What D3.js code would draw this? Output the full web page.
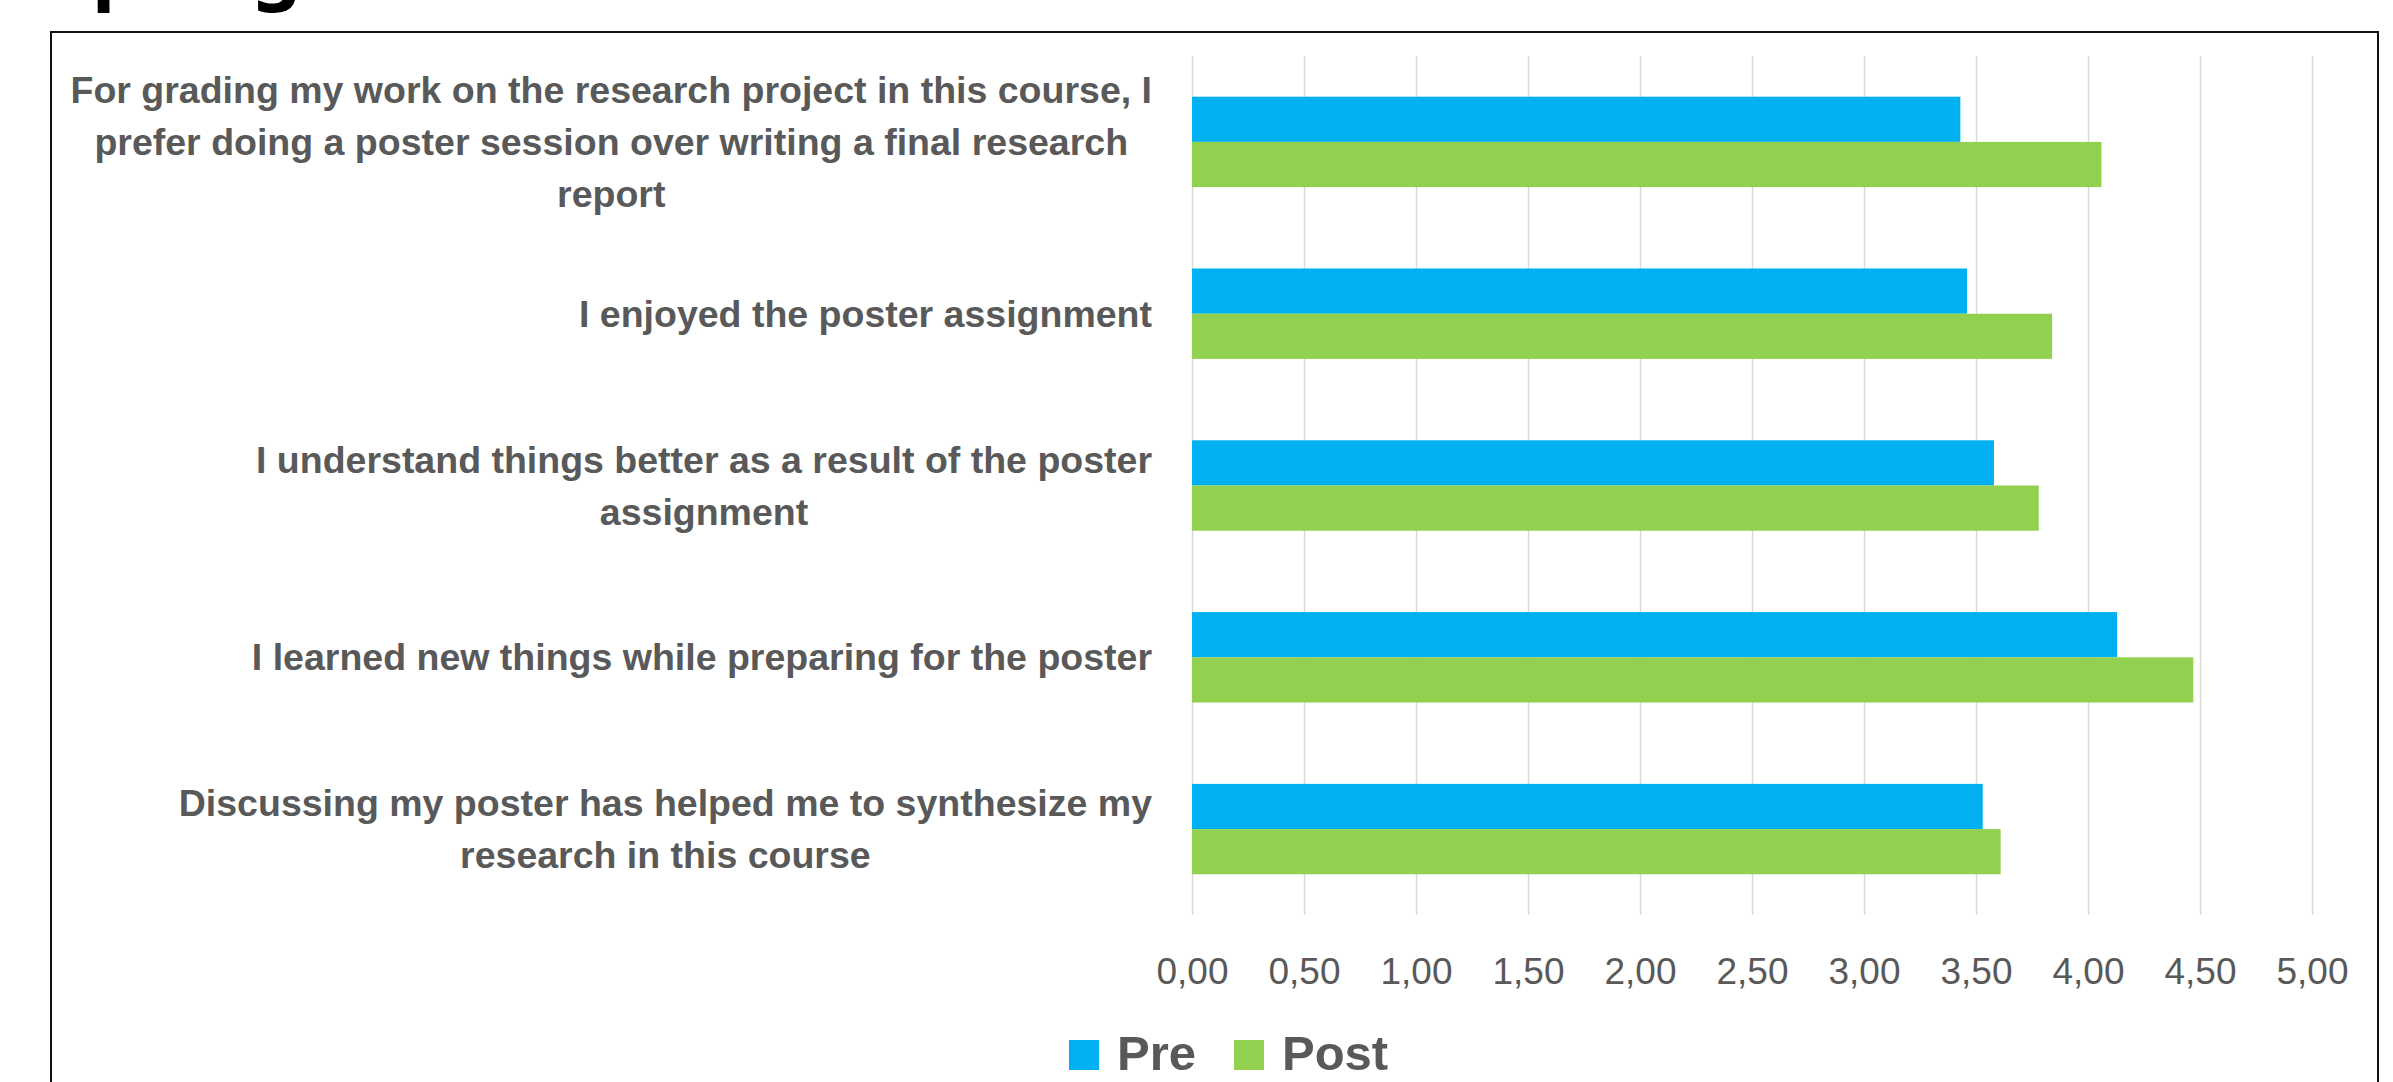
<!DOCTYPE html>
<html>
<head>
<meta charset="utf-8">
<script src="https://cdn.jsdelivr.net/npm/d3@7"></script>
<style>
  html, body { margin: 0; padding: 0; background: #ffffff; }
  svg { display: block; }
</style>
</head>
<body>
<svg id="chart" width="2393" height="1082"></svg>
<script>
// ---------- DATA ----------
const categories = [
  "For grading my work on the research project in this course, I\nprefer doing a poster session over writing a final research\nreport",
  "I enjoyed the poster assignment",
  "I understand things better as a result of the poster\nassignment",
  "I learned new things while preparing for the poster",
  "Discussing my poster has helped me to synthesize my\nresearch in this course"
];
const seriesNames = ["Pre", "Post"];
const preValues  = [3.43, 3.46, 3.58, 4.13, 3.53];
const postValues = [4.06, 3.84, 3.78, 4.47, 3.61];
const tickValues = [0, 0.5, 1, 1.5, 2, 2.5, 3, 3.5, 4, 4.5, 5];
const titleFragments = ["p", "g"];

// ---------- LAYOUT ----------
const W = 2393, H = 1082;
const plot = { left: 1192, right: 2312, top: 56, bottom: 915 };
const colors = { Pre: "#00B0F0", Post: "#92D050" };
const textGray = "#595959";
const gridGray = "#D9D9D9";

const svg = d3.select("#chart");
svg.append("rect").attr("width", W).attr("height", H).attr("fill", "#fff");

// cut-off title glyphs at very top (only descenders visible, as in the reference)
const titleG = svg.append("g")
  .attr("font-family", "'Noto Sans', 'Lato', sans-serif")
  .attr("font-size", 78).attr("font-weight", "bold").attr("fill", "#000");
titleG.append("text").attr("x", 92).attr("y", -6).text(titleFragments[0]);
titleG.append("text").attr("x", 252).attr("y", -6).text(titleFragments[1]);

// frame
svg.append("rect")
  .attr("x", 51).attr("y", 32)
  .attr("width", 2378 - 51).attr("height", 1200)
  .attr("fill", "none").attr("stroke", "#111").attr("stroke-width", 2);

// scales
const x = d3.scaleLinear().domain([0, 5]).range([plot.left, plot.right]);
const y0 = d3.scaleBand().domain(categories).range([plot.top, plot.bottom]).paddingInner(0).paddingOuter(0);
const y1 = d3.scaleBand().domain(seriesNames).range([0, y0.bandwidth()]).paddingInner(0).paddingOuter(0.9);

const rows = categories.map((c, i) => ({ cat: c, Pre: preValues[i], Post: postValues[i] }));

// gridlines
const grid = svg.append("g")
  .attr("transform", `translate(0,${plot.bottom})`)
  .call(d3.axisBottom(x).tickValues(tickValues).tickSize(-(plot.bottom - plot.top)).tickFormat(""));
grid.select(".domain").remove();
grid.selectAll(".tick line").attr("stroke", gridGray).attr("stroke-width", 1.5);

// bars
const groups = svg.append("g").selectAll("g")
  .data(rows).join("g")
  .attr("transform", d => `translate(0,${y0(d.cat)})`);
groups.selectAll("rect")
  .data(d => seriesNames.map(s => ({ s, v: d[s] })))
  .join("rect")
  .attr("x", x(0))
  .attr("y", d => y1(d.s))
  .attr("height", y1.bandwidth())
  .attr("width", d => x(d.v) - x(0))
  .attr("fill", d => colors[d.s]);

// x-axis labels
const locale = d3.formatLocale({ decimal: ",", thousands: ".", grouping: [3], currency: ["", "€"] });
const fmt = locale.format(".2f");
const xAxis = svg.append("g")
  .attr("transform", `translate(0,${plot.bottom})`)
  .call(d3.axisBottom(x).tickValues(tickValues).tickSize(0).tickPadding(43).tickFormat(fmt));
xAxis.select(".domain").remove();
xAxis.selectAll("text")
  .attr("font-family", "'Liberation Sans', Arial, sans-serif")
  .attr("font-size", 37)
  .attr("fill", textGray);

// y-axis category labels (multi-line, centered block, right aligned)
const yAxis = svg.append("g")
  .attr("transform", `translate(${plot.left},0)`)
  .call(d3.axisLeft(y0).tickSize(0).tickPadding(40));
yAxis.select(".domain").remove();
const lineH = 52;
yAxis.selectAll(".tick text").each(function (d) {
  const t = d3.select(this);
  const lines = d.split("\n");
  t.text(null)
    .attr("font-family", "'Liberation Sans', Arial, sans-serif")
    .attr("font-size", 37.5)
    .attr("font-weight", "bold")
    .attr("fill", textGray)
    .attr("text-anchor", "middle")
    .attr("dy", null);
  const spans = lines.map((ln, i) =>
    t.append("tspan")
      .attr("x", 0)
      .attr("y", (i - (lines.length - 1) / 2) * lineH)
      .attr("dy", "0.35em")
      .text(ln));
  const maxW = d3.max(spans, s => s.node().getComputedTextLength());
  spans.forEach(s => s.attr("x", -40 - maxW / 2));
});

// legend
const legend = svg.append("g").attr("transform", "translate(1069,1040)");
const legItems = [{ name: seriesNames[0], dx: 0 }, { name: seriesNames[1], dx: 165 }];
legItems.forEach(it => {
  const g = legend.append("g").attr("transform", `translate(${it.dx},0)`);
  g.append("rect").attr("width", 30).attr("height", 30).attr("fill", colors[it.name]);
  g.append("text")
    .attr("x", 48).attr("y", 30)
    .attr("font-family", "'Liberation Sans', Arial, sans-serif")
    .attr("font-size", 49).attr("font-weight", "bold")
    .attr("fill", textGray)
    .text(it.name);
});
</script>
</body>
</html>
